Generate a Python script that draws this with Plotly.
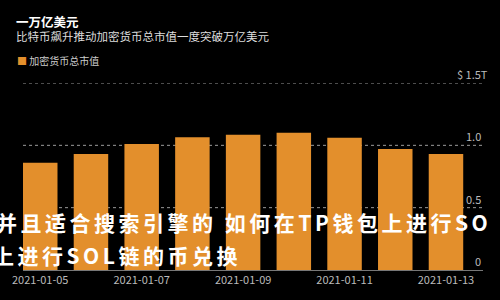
import plotly.graph_objects as go
import pandas as pd

# Data
dates = ["2021-01-05", "2021-01-06", "2021-01-07", "2021-01-08", "2021-01-09",
         "2021-01-10", "2021-01-11", "2021-01-12", "2021-01-13"]
market_cap_t = [0.86, 0.93, 1.01, 1.065, 1.085, 1.10, 1.06, 0.97, 0.93]
y_tickvals = [0, 0.5, 1.0, 1.5]
y_ticktext = ["0", "0.5", "1.0", "$ 1.5T"]
series_name = "加密货币总市值"
title_text = "一万亿美元"
subtitle_text = "比特币飙升推动加密货币总市值一度突破万亿美元"
overlay_line1 = "并且适合搜索引擎的 如何在TP钱包上进行SO"
overlay_line2 = "上进行SOL链的币兑换"

ORANGE = "#e38f2c"
FONT = "Noto Sans CJK SC"
DAY_MS = 86400000

fig = go.Figure()
fig.add_trace(go.Bar(
    x=dates, y=market_cap_t, name=series_name,
    marker=dict(color=ORANGE, line=dict(width=0)),
    width=0.68 * DAY_MS,
    showlegend=False,
))

x0 = pd.Timestamp(dates[0]) - pd.Timedelta(days=0.34)
x1 = pd.Timestamp(dates[-1]) + pd.Timedelta(days=0.73)

header = ('<span style="font-size:12.5px;font-weight:bold;color:#ffffff">' + title_text +
          '</span><br><span style="font-size:11.5px;color:#dddddd">' + subtitle_text + '</span>')

annotations = [
    dict(text=header, xref="paper", yref="paper", align="left",
         x=0, xshift=-9, y=1, yshift=55, xanchor="left", yanchor="middle",
         showarrow=False, font=dict(family=FONT, size=10.8, color="#dddddd")),
    dict(text='<span style="color:' + ORANGE + '">■</span> ' + series_name,
         xref="paper", yref="paper",
         x=0, xshift=-8, y=1, yshift=23, xanchor="left", yanchor="middle",
         showarrow=False, font=dict(family=FONT, size=10, color="#cccccc")),
]
# y-axis labels sit just above their gridlines at the right end
for v, t in zip(y_tickvals, y_ticktext):
    annotations.append(dict(
        text=t, xref="paper", yref="y", x=1, y=v,
        xshift=7 if t.startswith("$") else 0, yshift=9,
        xanchor="right", yanchor="middle", showarrow=False,
        font=dict(family=FONT, size=11, color="#bbbbbb")))

sp = "letter-spacing:3.5px"
annotations += [
    dict(text='<b><span style="' + sp + '">' + overlay_line1 + "</span></b>",
         xref="paper", yref="paper",
         x=0, xshift=-29, y=0, yshift=48, xanchor="left", yanchor="middle",
         showarrow=False, font=dict(family=FONT, size=21, color="#ffffff")),
    dict(text='<b><span style="' + sp + '">' + overlay_line2 + "</span></b>",
         xref="paper", yref="paper",
         x=0, xshift=-32, y=0, yshift=15, xanchor="left", yanchor="middle",
         showarrow=False, font=dict(family=FONT, size=21, color="#ffffff")),
]

# dotted gridlines at the y tick values
shapes = [dict(type="line", xref="paper", yref="y", x0=0, x1=1, y0=v, y1=v,
               line=dict(color="#9a9a9a", width=1, dash="dot"), layer="below")
          for v in y_tickvals[1:]]

fig.update_layout(
    width=500, height=300,
    margin=dict(l=16, r=17, t=83, b=30),
    paper_bgcolor="#000000", plot_bgcolor="#000000",
    font=dict(family=FONT, color="#bbbbbb", size=11),
    bargap=0.32,
    xaxis=dict(
        type="date", range=[x0, x1],
        tickformat="%Y-%m-%d", dtick=2 * DAY_MS, tick0=dates[0],
        showgrid=False, zeroline=False,
        showline=True, linecolor="#777777", linewidth=1,
        ticks="", tickfont=dict(size=11, color="#bbbbbb"),
    ),
    yaxis=dict(
        side="right", range=[0, 1.5],
        tickmode="array", tickvals=y_tickvals, showticklabels=False,
        showgrid=False, zeroline=False, showline=False, ticks="",
    ),
    annotations=annotations,
    shapes=shapes,
)

fig.write_html("out.html")
